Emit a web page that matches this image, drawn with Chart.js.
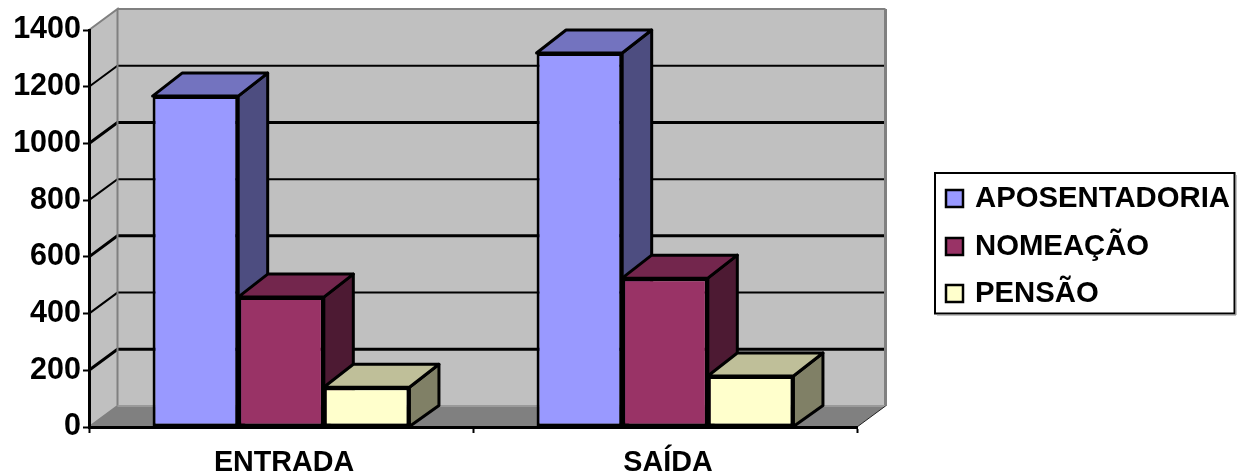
<!DOCTYPE html>
<html>
<head>
<meta charset="utf-8">
<style>
html, body { margin: 0; padding: 0; background: #fff; }
canvas { display: block; }
</style>
</head>
<body>
<canvas id="chart1" width="1242" height="476"></canvas>
<script src="https://cdn.jsdelivr.net/npm/chart.js@4/dist/chart.umd.min.js"></script>
<script>
var categories = ['ENTRADA', 'SAÍDA'];
var aposentadoria = [1167, 1319];
var nomeacao = [458, 525];
var pensao = [140, 180];
var yTicks = [0, 200, 400, 600, 800, 1000, 1200, 1400];

var FONT = '"Liberation Sans", Arial, sans-serif';
var depthX = 28.5, depthY = -21;   // 3d offset of the back wall
var barDepthX = 29.5, barDepthY = -23;

function poly(ctx, pts, fill, stroke, lw) {
    ctx.beginPath();
    ctx.moveTo(pts[0][0], pts[0][1]);
    for (var i = 1; i < pts.length; i++) ctx.lineTo(pts[i][0], pts[i][1]);
    ctx.closePath();
    if (fill) { ctx.fillStyle = fill; ctx.fill(); }
    if (stroke) { ctx.strokeStyle = stroke; ctx.lineWidth = lw; ctx.lineJoin = 'round'; ctx.stroke(); }
}

// walls, floor and wall grid lines go under the axes
var walls = {
    id: 'walls',
    beforeDraw: function (chart) {
        var ctx = chart.ctx, a = chart.chartArea, y = chart.scales.y;
        var l = a.left, r = a.right, t = a.top, b = a.bottom;
        ctx.save();
        poly(ctx, [[l + depthX, t + depthY], [r + depthX, t + depthY], [r + depthX, b + depthY], [l + depthX, b + depthY]], '#c0c0c0');
        poly(ctx, [[l, t], [l + depthX, t + depthY], [l + depthX, b + depthY], [l, b]], '#c0c0c0');
        poly(ctx, [[l, b], [l + depthX, b + depthY], [r + depthX, b + depthY], [r, b]], '#808080');

        yTicks.forEach(function (v, i) {
            if (v === 0 || v === yTicks[yTicks.length - 1]) return;
            var py = y.getPixelForValue(v);
            ctx.beginPath();
            ctx.moveTo(l, py);
            ctx.lineTo(l + depthX, py + depthY);
            ctx.lineTo(r + depthX, py + depthY);
            ctx.strokeStyle = '#000';
            ctx.lineWidth = i % 2 ? 3 : 2;
            ctx.stroke();
        });

        // wall edges
        ctx.strokeStyle = '#808080';
        ctx.lineWidth = 2;
        ctx.beginPath();
        ctx.moveTo(l, t);
        ctx.lineTo(l + depthX, t + depthY);
        ctx.lineTo(l + depthX, b + depthY);
        ctx.lineTo(l, b);
        ctx.moveTo(l + depthX, t + depthY);
        ctx.lineTo(r + depthX, t + depthY);
        ctx.stroke();
        ctx.lineWidth = 3;
        ctx.beginPath();
        ctx.moveTo(r + depthX, t + depthY);
        ctx.lineTo(r + depthX, b + depthY);
        ctx.stroke();
        ctx.strokeStyle = '#9a9a9a';
        ctx.lineWidth = 2;
        ctx.beginPath();
        ctx.moveTo(l + depthX, b + depthY);
        ctx.lineTo(r + depthX, b + depthY);
        ctx.stroke();
        ctx.strokeStyle = '#222';
        ctx.lineWidth = 1;
        ctx.beginPath();
        ctx.moveTo(r, b);
        ctx.lineTo(r + depthX, b + depthY);
        ctx.stroke();
        ctx.restore();
    }
};

// top and side faces of each bar, taken from the bar elements
var bars3d = {
    id: 'bars3d',
    beforeDatasetsDraw: function (chart) {
        var ctx = chart.ctx;
        ctx.save();
        chart.data.datasets.forEach(function (ds, di) {
            chart.getDatasetMeta(di).data.forEach(function (bar) {
                var x0 = bar.x - bar.width / 2, x1 = bar.x + bar.width / 2;
                var top = bar.y, base = bar.base;
                poly(ctx, [[x1, top], [x1 + barDepthX, top + barDepthY], [x1 + barDepthX, base + depthY], [x1, base]], ds.sideColor, '#000', 3);
                poly(ctx, [[x0, top], [x0 + barDepthX, top + barDepthY], [x1 + barDepthX, top + barDepthY], [x1, top]], ds.topColor, '#000', 3);
            });
        });
        ctx.restore();
    }
};

var boxLegend = {
    id: 'boxLegend',
    afterDraw: function (chart) {
        var ctx = chart.ctx;
        var rows = [198, 246, 293];
        ctx.save();
        ctx.fillStyle = '#fff';
        ctx.fillRect(935, 173, 299.5, 140.5);
        ctx.strokeStyle = '#000';
        ctx.lineWidth = 2;
        ctx.strokeRect(935, 173, 299.5, 140.5);
        ctx.strokeStyle = '#888';
        ctx.lineWidth = 1;
        ctx.beginPath();
        ctx.moveTo(1236, 175);
        ctx.lineTo(1236, 315);
        ctx.lineTo(937, 315);
        ctx.stroke();
        ctx.font = 'bold 29.3px ' + FONT;
        ctx.textBaseline = 'middle';
        chart.data.datasets.forEach(function (ds, i) {
            ctx.fillStyle = ds.backgroundColor;
            ctx.strokeStyle = '#000';
            ctx.lineWidth = 2.5;
            ctx.fillRect(946, rows[i] - 8, 17, 17);
            ctx.strokeRect(946, rows[i] - 8, 17, 17);
            ctx.fillStyle = '#000';
            ctx.fillText(ds.label, 975, rows[i] + 1);
        });
        ctx.restore();
    }
};

var ctx = document.getElementById('chart1');
var chart = new Chart(ctx, {
    type: 'bar',
    data: {
        labels: categories,
        datasets: [
            { label: 'APOSENTADORIA', data: aposentadoria, backgroundColor: '#9999ff', topColor: '#7373bf', sideColor: '#4d4d80' },
            { label: 'NOMEAÇÃO', data: nomeacao, backgroundColor: '#993366', topColor: '#73264d', sideColor: '#4d1a33' },
            { label: 'PENSÃO', data: pensao, backgroundColor: '#ffffcc', topColor: '#bfbf99', sideColor: '#808066' }
        ]
    },
    plugins: [walls, bars3d, boxLegend],
    options: {
        responsive: false,
        animation: false,
        devicePixelRatio: 1,
        layout: { padding: { left: 0, right: 385, top: 30, bottom: 0 } },
        datasets: {
            bar: { barPercentage: 1, categoryPercentage: 0.669, borderColor: '#000', borderWidth: 3, borderSkipped: false }
        },
        plugins: {
            legend: { display: false },
            tooltip: { enabled: false }
        },
        scales: {
            x: {
                afterFit: function (scale) { scale.height = 49; },
                border: { color: '#000', width: 3 },
                grid: { offset: true, drawOnChartArea: false, color: '#000', tickColor: '#000', tickLength: 6, tickWidth: 2 },
                ticks: { color: '#000', padding: 13, labelOffset: 3, maxRotation: 0, font: { family: FONT, size: 28.7, weight: 'bold' } }
            },
            y: {
                min: 0,
                max: 1400,
                afterFit: function (scale) { scale.width = 89; },
                afterBuildTicks: function (scale) {
                    scale.ticks = yTicks.map(function (v) { return { value: v }; });
                },
                border: { color: '#000', width: 3 },
                grid: { drawOnChartArea: false, color: '#000', tickColor: '#000', tickLength: 6, tickWidth: 2 },
                ticks: {
                    color: '#000',
                    padding: 2,
                    font: { family: FONT, size: 30.5, weight: 'bold' },
                    callback: function (v) { return String(v); }
                }
            }
        }
    }
});
</script>
</body>
</html>
